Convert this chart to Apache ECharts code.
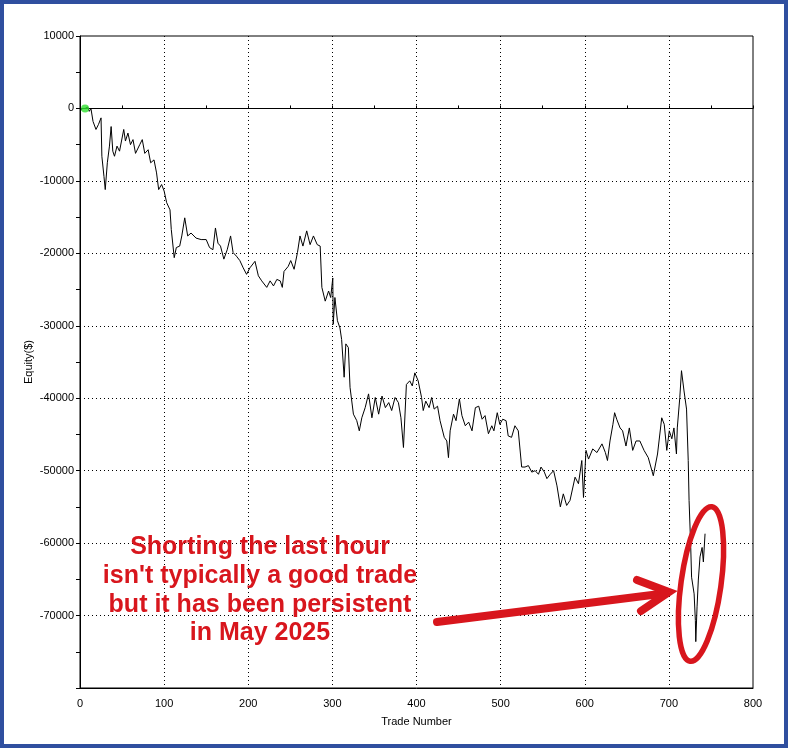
<!DOCTYPE html>
<html>
<head>
<meta charset="utf-8">
<title>Equity curve</title>
<script src="https://cdn.jsdelivr.net/npm/echarts@6/dist/echarts.min.js"></script>
<style>
    html, body { margin: 0; padding: 0; background: #fff; }
    #chart { width: 788px; height: 748px; }
</style>
</head>
<body>
<div id="chart"></div>
<script>
// trade number / equity
var tradeNo = [1, 3, 6, 9, 11, 13, 15.5, 19, 22, 25, 26, 28.5, 30, 32.5, 35, 37, 39, 41, 44, 47,
    52, 54, 57, 60, 63, 66, 71, 74, 77, 81, 84, 88, 91, 93.5, 97, 100, 103, 107, 108.5, 112,
    114.5, 118.5, 121, 124.5, 128, 132, 138, 144, 150, 154, 158, 161, 164, 167, 171, 175, 179, 182, 186,
    190, 194, 198, 202, 208, 212, 216, 222, 226, 230, 234, 238, 240.5, 242.5, 247.5, 250.5, 254.5,
    258.5, 261.5, 265, 269.5, 273.5, 277.5, 282, 285.5, 287.5, 291.5, 295.5, 298, 300.5, 301, 303,
    306, 309, 311, 314, 316, 319, 321, 325, 329, 332, 335, 339, 343, 347, 351, 355, 359, 363, 367,
    370.5, 374.5, 378.5, 381.5, 384.5, 388, 392, 395, 398, 402, 406, 408, 411, 415, 418, 421, 425,
    428, 433, 436, 438, 440, 444, 447, 451, 454, 458, 462, 466, 470, 474, 478, 481.5, 485.5, 489.5,
    492, 496, 499, 502.5, 506.5, 509, 513, 517, 521, 525, 529, 533, 537, 541, 545, 548, 552, 555,
    559, 563, 567, 571, 574.5, 578.5, 582.5, 588.5, 592.5, 596.5, 598.5, 601.5, 604.5, 609.5, 614.5,
    620.5, 624.5, 627, 630, 633.5, 635.5, 638, 642, 645, 649, 653, 657, 661, 665.5, 670.5, 675.5,
    681.5, 686.5, 691.5, 694.5, 697.5, 700.5, 703.5, 706, 709, 710, 713, 715, 718, 721, 723, 724,
    726, 727, 730, 731.5, 732, 733.5, 735, 737, 739.5, 741, 743];
var equity = [-300, 0, 0, 200, -400, 0, -1800, -2900, -2200, -1300, -6600, -9400, -11200, -7500, -5200, -2500, -5900, -6600, -5200, -5900,
    -2900, -4500, -3400, -5000, -4300, -6200, -5000, -4300, -6200, -5700, -7500, -7100, -8900, -11200, -10500, -11400, -13000, -14000, -16700, -20600,
    -19200, -19000, -17600, -15100, -17600, -17200, -17900, -18100, -18100, -19200, -19500, -16500, -18600, -19000, -20800, -19500, -17600, -19900, -20400,
    -21000, -22000, -22900, -22000, -21100, -23100, -23800, -24700, -23800, -24500, -23600, -23800, -24700, -22500, -21800, -21000, -22200,
    -19900, -17600, -19000, -16900, -18800, -17600, -18800, -19000, -24700, -26600, -25200, -26100, -23400, -29800, -26100,
    -29300, -30300, -31900, -37100, -32500, -33000, -38500, -42200, -43100, -44500, -42700, -41300, -39400, -42700, -39900, -42200, -39700, -41300, -40600,
    -41700, -39900, -40600, -42700, -46800, -38100, -37600, -38300, -36500, -37600, -39900, -41700, -40400, -41300, -39900, -41500, -41100,
    -43100, -45400, -45900, -48200, -44500, -42200, -43100, -40100, -42400, -43800, -43300, -44500, -41300, -41100, -42900, -42400, -44900, -43800,
    -44500, -42000, -43600, -42900, -43100, -45200, -45400, -43800, -44500, -49500, -49500, -49300, -50200, -50000, -50500, -49500, -50200, -51100,
    -50500, -50000, -52100, -55000, -53200, -54800, -54100, -50900, -51800, -48600, -53700, -47200, -48400, -47000, -47500,
    -46300, -47500, -48600, -45900, -43600, -42000, -42900, -44100, -44500, -46600, -44100, -47200, -45900, -45900, -47200, -48200,
    -50700, -47700, -42700, -43600, -47200, -44500, -45600, -44100, -47700, -44100, -39900, -36200, -39000, -41500, -48600, -54100,
    -60600, -64700, -67000, -70700, -73600, -68800, -65100, -61900, -60600, -62600, -58700];
var startPoint = [6, 0];
var xTicks = ['0', '100', '200', '300', '400', '500', '600', '700', '800'];
var noteLines = ['Shorting the last hour', "isn't typically a good trade", 'but it has been persistent', 'in May 2025'];

var red = '#d8161d';
var font = 'Liberation Sans, Arial, sans-serif';

var chart = echarts.init(document.getElementById('chart'));
chart.setOption({
    backgroundColor: '#ffffff',
    animation: false,
    grid: {
        left: 80,
        top: 36,
        width: 673,
        height: 652,
        show: true,
        borderColor: '#000',
        borderWidth: 1,
        backgroundColor: '#fff'
    },
    xAxis: [{
        type: 'value',
        min: 0,
        max: 800,
        interval: 100,
        name: 'Trade Number',
        nameLocation: 'middle',
        nameGap: 28,
        nameTextStyle: { color: '#000', fontSize: 11, fontFamily: font },
        axisLine: { onZero: false, lineStyle: { color: '#000', width: 1 } },
        axisTick: { show: false },
        axisLabel: {
            color: '#000',
            fontSize: 11,
            fontFamily: font,
            margin: 10,
            formatter: function (v) { return xTicks[Math.round(v / 100)]; }
        },
        splitLine: {
            show: true,
            showMinLine: false,
            showMaxLine: false,
            lineStyle: { color: '#000', type: [1, 3], width: 1 }
        }
    }, {
        // the zero line with its small ticks
        type: 'value',
        min: 0,
        max: 800,
        interval: 50,
        axisLine: { onZero: true, lineStyle: { color: '#000', width: 1 } },
        axisTick: { show: true, length: 3, lineStyle: { color: '#000' } },
        axisLabel: { show: false },
        splitLine: { show: false }
    }],
    yAxis: {
        type: 'value',
        min: -80000,
        max: 10000,
        interval: 10000,
        name: 'Equity($)',
        nameLocation: 'middle',
        nameGap: 46,
        nameMoveOverlap: false,
        nameTextStyle: { color: '#000', fontSize: 11, fontFamily: font },
        axisLine: { onZero: false, lineStyle: { color: '#000', width: 1 } },
        axisTick: { show: true, length: 4, lineStyle: { color: '#000' } },
        minorTick: { show: true, splitNumber: 2, length: 4, lineStyle: { color: '#000' } },
        axisLabel: {
            color: '#000',
            fontSize: 11,
            fontFamily: font,
            margin: 6,
            showMinLabel: false,
            formatter: function (v) { return String(v); }
        },
        splitLine: {
            show: true,
            showMinLine: false,
            showMaxLine: false,
            lineStyle: { color: '#000', type: [1, 3], width: 1 }
        }
    },
    series: [{
        type: 'line',
        xAxisIndex: 0,
        data: tradeNo.map(function (t, i) { return [t, equity[i]]; }),
        showSymbol: false,
        lineStyle: { color: '#000', width: 1 },
        z: 3
    }, {
        type: 'scatter',
        xAxisIndex: 0,
        data: [startPoint],
        symbolSize: 8,
        itemStyle: { color: '#2fe02f' },
        z: 4
    }],
    graphic: [{
        type: 'rect',
        shape: { x: 0, y: 0, width: 788, height: 748 },
        style: { fill: null, stroke: '#2f4f9f', lineWidth: 8 },
        silent: true
    }, {
        type: 'text',
        x: 260,
        y: 533,
        style: {
            text: noteLines.join('\n'),
            fill: red,
            font: 'bold 25px ' + font,
            textAlign: 'center',
            lineHeight: 28.7
        },
        z: 10
    }, {
        type: 'line',
        shape: { x1: 437, y1: 622, x2: 660, y2: 594 },
        style: { stroke: red, lineWidth: 8, lineCap: 'round' },
        z: 10
    }, {
        type: 'polyline',
        shape: { points: [[637, 580], [669, 592], [641, 611]] },
        style: { stroke: red, lineWidth: 8, lineCap: 'round', lineJoin: 'miter', fill: null },
        z: 10
    }, {
        type: 'ellipse',
        x: 701,
        y: 584,
        rotation: -0.14,
        shape: { cx: 0, cy: 0, rx: 20, ry: 78 },
        style: { stroke: red, lineWidth: 5.5, fill: null },
        z: 10
    }]
});
</script>
</body>
</html>
